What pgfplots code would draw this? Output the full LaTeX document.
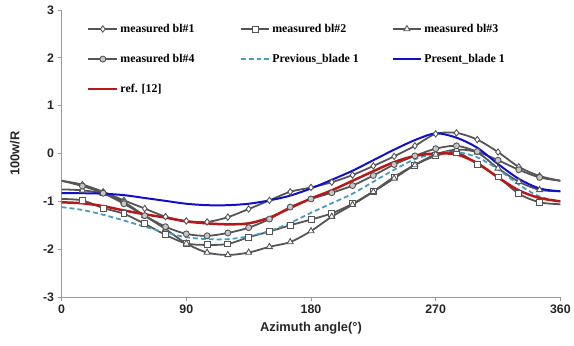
\documentclass[border=0pt]{standalone}
\usepackage{pgfplots}
\pgfplotsset{compat=1.18}
\usepackage{fontspec}
\setmainfont{Liberation Sans}
\newfontfamily\legfont{Liberation Serif}
\definecolor{dg}{HTML}{555555}
\definecolor{teal1}{HTML}{4A9BBE}
\definecolor{blu}{HTML}{1010C8}
\definecolor{redd}{HTML}{B81818}
\newcommand{\lt}[1]{\makebox[118bp][l]{\legfont\bfseries #1}}
\begin{document}
\begin{tikzpicture}
\begin{axis}[
  scale only axis, width=502bp, height=289bp,
  xmin=0, xmax=360, ymin=-3, ymax=3,
  xtick={0,90,180,270,360}, ytick={-3,-2,-1,0,1,2,3},
  axis x line*=bottom, axis y line*=left,
  axis line style={draw=gray!80, line width=0.8bp, -},
  tick style={draw=gray!80, line width=0.8bp},
  tick align=outside, major tick length=4bp,
  /pgf/number format/assume math mode=true,
  ticklabel style={font=\fontsize{12.5}{14}\selectfont\bfseries, text=black!85},
  xlabel={Azimuth angle(°)}, ylabel={100w/R},
  label style={font=\fontsize{13}{15}\selectfont\bfseries, text=black!85},
  xlabel style={at={(axis description cs:0.5,-0.107)}, anchor=center},
  ylabel style={at={(axis description cs:-0.0936,0.5)}, anchor=center},
  legend columns=3,
  legend cell align=left,
  legend style={draw=none, fill=none, at={(axis description cs:0.045,0.965)}, anchor=north west,
    font=\fontsize{12}{14}\selectfont, row sep=16.5bp, column sep=0bp},
  legend image code/.code={\draw[#1, mark indices={2}] plot coordinates {(0bp,0bp) (14.5bp,0bp) (29bp,0bp)};},
  every axis plot/.append style={smooth},
]
% measured bl#1
\addplot[dg, line width=1.8bp, mark=diamond*, mark size=3.2bp, mark options={fill=white, draw=dg, line width=0.9bp},
  mark indices={2,3,4,5,6,7,8,9,10,11,12,13,14,15,16,17,18,19,20,21,22,23,24}] coordinates {
(0,-0.57) (15,-0.65) (30,-0.80) (45,-0.98) (60,-1.15) (75,-1.32) (90,-1.41) (105,-1.43) (120,-1.33)
(135,-1.16) (150,-0.98) (165,-0.80) (180,-0.71) (195,-0.60) (210,-0.45) (225,-0.26) (240,-0.06)
(255,0.16) (270,0.41) (285,0.43) (300,0.29) (315,0.03) (330,-0.28) (345,-0.47) (360,-0.57)};
\addlegendentry{\lt{measured bl\#1}}
% measured bl#2
\addplot[dg, line width=1.8bp, mark=square*, mark size=3bp, mark options={fill=white, draw=dg, line width=0.9bp},
  mark indices={2,3,4,5,6,7,8,9,10,11,12,13,14,15,16,17,18,19,20,21,22,23,24}] coordinates {
(0,-0.95) (15,-0.98) (30,-1.14) (45,-1.26) (60,-1.47) (75,-1.70) (90,-1.88) (105,-1.91) (120,-1.89)
(135,-1.75) (150,-1.63) (165,-1.50) (180,-1.38) (195,-1.25) (210,-1.05) (225,-0.79) (240,-0.49)
(255,-0.24) (270,-0.05) (285,0.03) (300,-0.22) (315,-0.49) (330,-0.84) (345,-1.02) (360,-1.06)};
\addlegendentry{\lt{measured bl\#2}}
% measured bl#3
\addplot[dg, line width=1.8bp, mark=triangle*, mark size=3.5bp, mark options={fill=white, draw=dg, line width=0.9bp},
  mark indices={2,3,4,5,6,7,8,9,10,11,12,13,14,15,16,17,18,19,20,21,22,23,24}] coordinates {
(0,-0.75) (15,-0.77) (30,-0.84) (45,-1.02) (60,-1.30) (75,-1.58) (90,-1.88) (105,-2.07) (120,-2.12)
(135,-2.07) (150,-1.95) (165,-1.85) (180,-1.62) (195,-1.32) (210,-1.07) (225,-0.80) (240,-0.52)
(255,-0.24) (270,-0.02) (285,0.08) (300,0.02) (315,-0.31) (330,-0.59) (345,-0.76) (360,-0.79)};
\addlegendentry{\lt{measured bl\#3}}
% measured bl#4
\addplot[dg, line width=1.8bp, mark=*, mark size=3bp, mark options={fill=gray!45, draw=dg, line width=0.9bp},
  mark indices={2,3,4,5,6,7,8,9,10,11,12,13,14,15,16,17,18,19,20,21,22,23,24}] coordinates {
(0,-0.57) (15,-0.68) (30,-0.83) (45,-1.05) (60,-1.30) (75,-1.53) (90,-1.68) (105,-1.72) (120,-1.66)
(135,-1.55) (150,-1.37) (165,-1.12) (180,-0.95) (195,-0.82) (210,-0.67) (225,-0.46) (240,-0.23)
(255,-0.05) (270,0.10) (285,0.16) (300,0.04) (315,-0.14) (330,-0.34) (345,-0.50) (360,-0.57)};
\addlegendentry{\lt{measured bl\#4}}
% Previous_blade 1
\addplot[teal1, line width=1.8bp, dash pattern=on 5bp off 3bp, no marks] coordinates {
(0,-1.12) (15,-1.18) (30,-1.28) (45,-1.40) (60,-1.53) (75,-1.65) (90,-1.75) (105,-1.79) (120,-1.79)
(135,-1.73) (150,-1.62) (165,-1.45) (180,-1.24) (195,-1.04) (210,-0.84) (225,-0.59) (240,-0.34)
(255,-0.12) (270,0.00) (285,0.03) (300,-0.08) (315,-0.33) (330,-0.65) (345,-0.90) (360,-1.00)};
\addlegendentry{\lt{Previous\_blade 1}}
% Present_blade 1
\addplot[blu, line width=2bp, no marks] coordinates {
(0,-0.83) (15,-0.83) (30,-0.84) (45,-0.87) (60,-0.93) (75,-0.99) (90,-1.05) (105,-1.08) (120,-1.08)
(135,-1.05) (150,-0.98) (165,-0.88) (180,-0.73) (195,-0.55) (210,-0.36) (225,-0.14) (240,0.08)
(255,0.28) (270,0.42) (285,0.33) (300,0.12) (315,-0.22) (330,-0.53) (345,-0.73) (360,-0.79)};
\addlegendentry{\lt{Present\_blade 1}}
% ref. [12]
\addplot[redd, line width=2.5bp, no marks] coordinates {
(0,-1.02) (15,-1.04) (30,-1.10) (45,-1.19) (60,-1.27) (75,-1.34) (90,-1.42) (105,-1.46) (120,-1.48)
(135,-1.46) (150,-1.34) (165,-1.14) (180,-0.94) (195,-0.77) (210,-0.57) (225,-0.37) (240,-0.18)
(255,-0.05) (270,0.00) (285,-0.02) (300,-0.20) (315,-0.50) (330,-0.77) (345,-0.93) (360,-1.00)};
\addlegendentry{\lt{ref. [12]}}
\end{axis}
\path (current axis.south west) ++(-62bp,-49bp) coordinate (bbA);
\path (current axis.north east) ++(10bp,10bp) coordinate (bbB);
\path (bbA) rectangle (bbB);
\end{tikzpicture}
\end{document}
